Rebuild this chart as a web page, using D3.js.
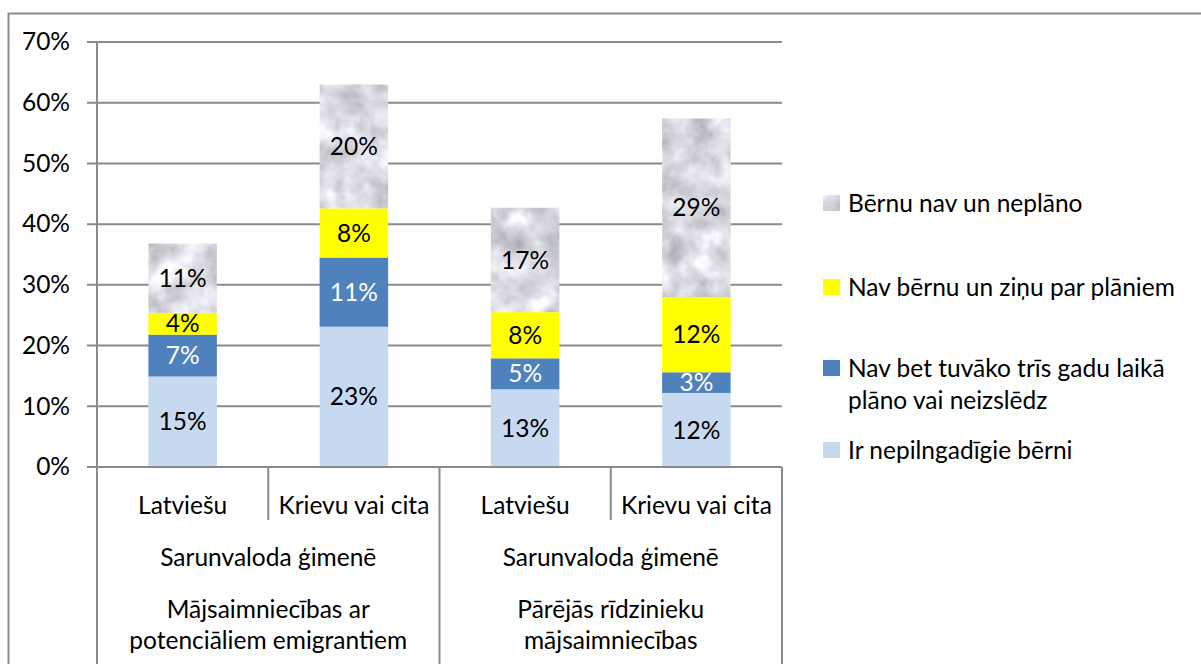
<!DOCTYPE html>
<html><head><meta charset="utf-8">
<script src="https://cdn.jsdelivr.net/npm/d3@7"></script>
<style>
html,body{margin:0;padding:0;background:#fff;}
svg{display:block;}
text{font-family:Lato,"Noto Sans",sans-serif;fill:#000;}
</style></head><body>
<svg id="c" width="1201" height="664"></svg>
<script>
// ---- data ----
const categories = ["Latviešu", "Krievu vai cita", "Latviešu", "Krievu vai cita"];
const groupLabels = ["Sarunvaloda ģimenē", "Sarunvaloda ģimenē"];
const outerLabels = [["Mājsaimniecības ar", "potenciāliem emigrantiem"], ["Pārējās rīdzinieku", "mājsaimniecības"]];
const seriesNames = ["Ir nepilngadīgie bērni", "Nav bet tuvāko trīs gadu laikā plāno vai neizslēdz", "Nav bērnu un ziņu par plāniem", "Bērnu nav un neplāno"];
const legendLines = [["Ir nepilngadīgie bērni"], ["Nav bet tuvāko trīs gadu laikā", "plāno vai neizslēdz"], ["Nav bērnu un ziņu par plāniem"], ["Bērnu nav un neplāno"]];
const valuesChildren = [14.9, 23.1, 12.8, 12.2];
const valuesPlanning = [6.9, 11.4, 5.1, 3.4];
const valuesUnknown = [3.6, 8.1, 7.6, 12.4];
const valuesNoPlans = [11.4, 20.4, 17.2, 29.4];
const yTicks = [0, 10, 20, 30, 40, 50, 60, 70];

const seriesValues = [valuesChildren, valuesPlanning, valuesUnknown, valuesNoPlans];
const seriesFill = ["#C6D9F1", "#4F81BD", "#FFFF00", "url(#stone)"];
const seriesText = ["#000", "#fff", "#000", "#000"];

const svg = d3.select("#c");
const FS = 24.5;
const gridColor = "#8a8a8a";

// texture
const defs = svg.append("defs");
const pat = defs.append("pattern").attr("id", "stone").attr("patternUnits", "userSpaceOnUse")
  .attr("width", 900).attr("height", 700);
const f = defs.append("filter").attr("id", "noise").attr("filterUnits", "userSpaceOnUse")
  .attr("x", 0).attr("y", 0).attr("width", 900).attr("height", 700)
  .attr("color-interpolation-filters", "sRGB");
f.append("feTurbulence").attr("type", "fractalNoise").attr("baseFrequency", 0.035).attr("numOctaves", 4).attr("seed", 11).attr("result", "t");
f.append("feColorMatrix").attr("type", "matrix")
  .attr("values", "0.33 0.33 0.33 0 0  0.33 0.33 0.33 0 0  0.33 0.33 0.33 0 0  0 0 0 0 1").attr("result", "g");
f.append("feComponentTransfer").call(ct => {
  ct.append("feFuncR").attr("type", "linear").attr("slope", 0.85).attr("intercept", 0.44);
  ct.append("feFuncG").attr("type", "linear").attr("slope", 0.85).attr("intercept", 0.44);
  ct.append("feFuncB").attr("type", "linear").attr("slope", 0.85).attr("intercept", 0.47);
});
pat.append("rect").attr("width", 900).attr("height", 700).attr("fill", "#ddd").attr("filter", "url(#noise)");

// outer frame
svg.append("rect").attr("x", 8.5).attr("y", 13.5).attr("width", 1250).attr("height", 700)
  .attr("fill", "none").attr("stroke", gridColor).attr("stroke-width", 2);

const x = d3.scaleBand().domain(d3.range(categories.length)).range([97, 782]).paddingInner(0.6).paddingOuter(0.3);
const y = d3.scaleLinear().domain([0, 70]).range([467, 42]);

// gridlines + ticks
svg.append("g").selectAll("line").data(yTicks).join("line")
  .attr("x1", 87).attr("x2", 782).attr("y1", d => y(d)).attr("y2", d => y(d))
  .attr("stroke", gridColor).attr("stroke-width", 2);

// y axis via d3 axis
const yAxis = svg.append("g").attr("transform", "translate(97,0)")
  .call(d3.axisLeft(y).tickValues(yTicks).tickFormat(d => d + "%").tickSize(0).tickPadding(27));
yAxis.select(".domain").remove();
yAxis.selectAll("text").style("font-size", FS + "px").style("font-family", "Lato").attr("fill", "#000");

// bars
const stacked = d3.stack().keys(d3.range(4)).value((d, k) => seriesValues[k][d])(d3.range(categories.length));
const gBars = svg.append("g");
stacked.forEach((layer, k) => {
  gBars.selectAll(null).data(layer).join("rect")
    .attr("x", (d, i) => x(i)).attr("width", x.bandwidth())
    .attr("y", d => y(d[1])).attr("height", d => y(d[0]) - y(d[1]))
    .attr("fill", seriesFill[k]);
  gBars.selectAll(null).data(layer).join("text")
    .attr("x", (d, i) => x(i) + x.bandwidth() / 2)
    .attr("y", d => (y(d[0]) + y(d[1])) / 2)
    .attr("dy", "0.35em").attr("text-anchor", "middle")
    .style("font-size", FS + "px").attr("fill", seriesText[k]).style("fill", seriesText[k])
    .text((d, i) => Math.round(seriesValues[k][i]) + "%");
});

// axis lines (x)
const axisY = y(0);
svg.append("line").attr("x1", 87).attr("x2", 782).attr("y1", axisY).attr("y2", axisY).attr("stroke", gridColor).attr("stroke-width", 2);
svg.append("line").attr("x1", 97).attr("x2", 97).attr("y1", y(70)).attr("y2", 664).attr("stroke", gridColor).attr("stroke-width", 2);
const step = x.step();
const x0 = 97;
[1, 3].forEach(i => {
  svg.append("line").attr("x1", x0 + step * i).attr("x2", x0 + step * i).attr("y1", axisY).attr("y2", 520)
    .attr("stroke", gridColor).attr("stroke-width", 2);
});
[2, 4].forEach(i => {
  svg.append("line").attr("x1", x0 + step * i).attr("x2", x0 + step * i).attr("y1", axisY).attr("y2", 664)
    .attr("stroke", gridColor).attr("stroke-width", 2);
});

// category labels
svg.append("g").selectAll("text").data(categories).join("text")
  .attr("x", (d, i) => x(i) + x.bandwidth() / 2).attr("y", 505).attr("dy", "0.35em")
  .attr("text-anchor", "middle").style("font-size", FS + "px").text(d => d);
svg.append("g").selectAll("text").data(groupLabels).join("text")
  .attr("x", (d, i) => x0 + step * (2 * i + 1)).attr("y", 557).attr("dy", "0.35em")
  .attr("text-anchor", "middle").style("font-size", FS + "px").text(d => d);
outerLabels.forEach((lines, i) => {
  lines.forEach((t, j) => {
    svg.append("text").attr("x", x0 + step * (2 * i + 1)).attr("y", 609 + j * 31).attr("dy", "0.35em")
      .attr("text-anchor", "middle").style("font-size", FS + "px").text(t);
  });
});

// legend (top = last series)
const legendY = [450, 368, 287, 203];
const lg = svg.append("g");
seriesNames.forEach((name, k) => {
  lg.append("rect").attr("x", 823).attr("y", legendY[k] - 8).attr("width", 17).attr("height", 16).attr("fill", seriesFill[k]);
  legendLines[k].forEach((t, j) => {
    lg.append("text").attr("x", 848).attr("y", legendY[k] + j * 32).attr("dy", "0.35em")
      .style("font-size", FS + "px").text(t);
  });
});
</script>
</body></html>
